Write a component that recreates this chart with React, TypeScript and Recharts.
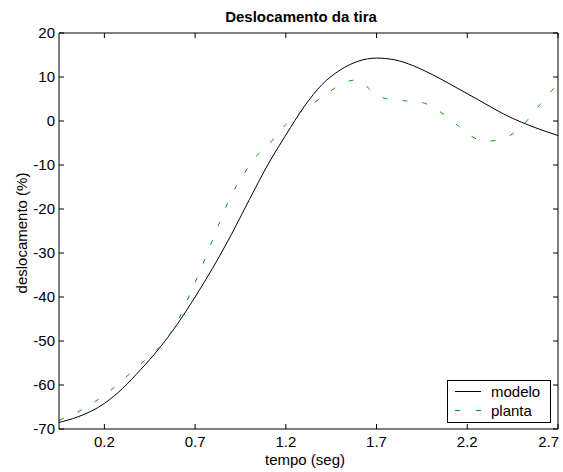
import React from 'react';
import { LineChart, Line, XAxis, YAxis } from 'recharts';

const modeloT = [-0.05, 0.05, 0.2, 0.3, 0.4, 0.5, 0.6, 0.7, 0.8, 0.9, 1.0, 1.1, 1.2, 1.3, 1.4, 1.5, 1.6, 1.7, 1.8, 1.9, 2.0, 2.1, 2.2, 2.3, 2.4, 2.5, 2.6, 2.7];
const modeloV = [-68.5, -67.3, -64.2, -60.8, -56.5, -51.8, -46.3, -40.0, -33.2, -25.8, -17.8, -10.0, -3.2, 3.2, 8.3, 11.6, 13.6, 14.3, 13.9, 12.6, 10.7, 8.5, 6.2, 3.9, 1.6, -0.3, -1.9, -3.3];

const plantaT = [-0.05, 0.05, 0.15, 0.22, 0.3, 0.4, 0.5, 0.6, 0.68, 0.76, 0.83, 0.9, 0.96, 1.02, 1.1, 1.2, 1.3, 1.4, 1.5, 1.58, 1.62, 1.67, 1.75, 1.85, 1.95, 2.05, 2.15, 2.22, 2.3, 2.4, 2.5, 2.6, 2.7];
const plantaV = [-68.0, -66.2, -63.7, -61.7, -58.9, -55.2, -51.5, -45.8, -38.6, -30.8, -23.6, -16.8, -12.7, -8.8, -5.6, -0.8, 2.6, 5.4, 8.2, 9.3, 8.8, 6.9, 5.1, 4.6, 4.2, 2.1, -1.1, -3.4, -4.6, -4.0, -1.2, 3.7, 8.6];

const xTicks = [0.2, 0.7, 1.2, 1.7, 2.2, 2.7];
const yTicks = [-70, -60, -50, -40, -30, -20, -10, 0, 10, 20];

const seriesNames = ['modelo', 'planta'];
const titleText = 'Deslocamento da tira';
const xLabel = 'tempo (seg)';
const yLabel = 'deslocamento (%)';

const modeloData = modeloT.map((t, i) => ({ t, v: modeloV[i] }));
const plantaData = plantaT.map((t, i) => ({ t, v: plantaV[i] }));

const FONT = 'Liberation Sans, Arial, sans-serif';
const GREEN = '#00a000';
const tickStyle = { fontSize: 15, fill: '#000', fontFamily: FONT };

const BottomTick = (props: any) => {
  const { x, y, payload } = props;
  const label = String(payload.value);
  const nearEdge = x > 548;
  return (
    <text
      x={nearEdge ? 559 : x}
      y={y + 11}
      textAnchor={nearEdge ? 'end' : 'middle'}
      fontFamily={FONT}
      fontSize={15}
      fill="#000"
    >
      {label}
    </text>
  );
};

export default function App() {
  return (
    <div style={{ position: 'absolute', left: 0, top: 0, width: 563, height: 472, background: '#fff' }}>
      <LineChart width={563} height={472} margin={{ top: 32, right: 4, bottom: 0, left: 0 }}>
        <XAxis
          xAxisId="b"
          dataKey="t"
          type="number"
          domain={[-0.05, 2.7]}
          ticks={xTicks}
          interval={0}
          allowDataOverflow
          height={43}
          tickSize={-5}
          tickMargin={12}
          stroke="#000"
          tick={<BottomTick />}
          tickLine={{ stroke: '#000' }}
          axisLine={{ stroke: '#000' }}
        />
        <XAxis
          xAxisId="top"
          orientation="top"
          dataKey="t"
          type="number"
          domain={[-0.05, 2.7]}
          ticks={xTicks}
          interval={0}
          allowDataOverflow
          height={1}
          tickSize={-5}
          tickFormatter={() => ''}
          stroke="#000"
        />
        <YAxis
          yAxisId="l"
          type="number"
          domain={[-70, 20]}
          ticks={yTicks}
          interval={0}
          allowDataOverflow
          width={59}
          tickSize={-5}
          tickMargin={9}
          stroke="#000"
          tick={tickStyle}
          tickLine={{ stroke: '#000' }}
          axisLine={{ stroke: '#000' }}
        />
        <YAxis
          yAxisId="r"
          orientation="right"
          type="number"
          domain={[-70, 20]}
          ticks={yTicks}
          interval={0}
          allowDataOverflow
          width={1}
          tickSize={-5}
          tickFormatter={() => ''}
          stroke="#000"
        />
        <Line
          xAxisId="b"
          yAxisId="l"
          data={modeloData}
          dataKey="v"
          name={seriesNames[0]}
          type="monotone"
          stroke="#000"
          strokeWidth={1}
          dot={false}
          isAnimationActive={false}
        />
        <Line
          xAxisId="b"
          yAxisId="l"
          data={plantaData}
          dataKey="v"
          name={seriesNames[1]}
          type="monotone"
          stroke={GREEN}
          strokeWidth={1}
          strokeDasharray="5 15"
          dot={false}
          isAnimationActive={false}
        />
      </LineChart>
      <svg width={563} height={472} style={{ position: 'absolute', left: 0, top: 0, pointerEvents: 'none' }}>
        <text x={301} y={22} textAnchor="middle" fontFamily={FONT} fontWeight="bold" fontSize={15} fill="#000">{titleText}</text>
        <text x={305} y={465} textAnchor="middle" fontFamily={FONT} fontSize={15} fill="#000">{xLabel}</text>
        <text x={27} y={233} textAnchor="middle" fontFamily={FONT} fontSize={15} fill="#000" transform="rotate(-90 27 233)">{yLabel}</text>
        <rect x={447.5} y={380.5} width={103} height={42} fill="#fff" stroke="#000" strokeWidth={1} />
        <line x1={455} y1={391.5} x2={481} y2={391.5} stroke="#000" strokeWidth={1} />
        <text x={491} y={396.5} fontFamily={FONT} fontSize={15} fill="#000">{seriesNames[0]}</text>
        <line x1={455} y1={410.5} x2={481} y2={410.5} stroke={GREEN} strokeWidth={1} strokeDasharray="5 16" />
        <text x={491} y={415.5} fontFamily={FONT} fontSize={15} fill="#000">{seriesNames[1]}</text>
      </svg>
    </div>
  );
}
